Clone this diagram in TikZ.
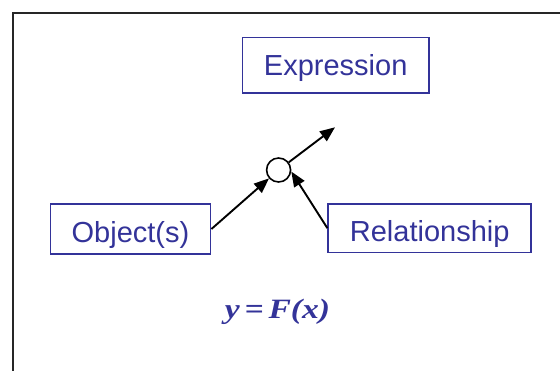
\documentclass[tikz,border=0pt]{standalone}
\usepackage{fontspec}
\setmainfont{Liberation Sans}
\newfontfamily\formulafont{Liberation Serif}
\usepackage{graphicx}
\usetikzlibrary{shapes,arrows.meta,positioning,calc}
\definecolor{boxblue}{RGB}{51,51,153}

\begin{document}
\begin{tikzpicture}[x=1pt, y=-1pt,
    box/.style={draw=boxblue, rectangle, line width=1.6pt, text=boxblue, inner sep=0pt,
                font=\fontsize{29}{29}\selectfont, text height=20.5pt, text depth=0pt},
    link/.style={-{Triangle[length=15pt,width=12pt]}, line width=1.9pt}]
    \useasboundingbox (0,0) rectangle (560,370);
    \draw[line width=2pt, black!85] (575,12.7) -- (13.3,12.7) -- (13.3,385);

    \node[box, minimum width=186.5pt, minimum height=55.3pt] (expr) at (335.7,65.3) {Expression};
    \node[box, minimum width=160.3pt, minimum height=50pt, text height=26.5pt] (obj) at (130.5,229) {Object(s)};
    \node[box, minimum width=203pt, minimum height=48.5pt, text height=26.5pt] (rel) at (429.7,228.2) {Relationship};
    \node[draw, circle, fill=white, line width=1.6pt, minimum size=24pt, inner sep=0pt] (junc) at (278.6,170) {};
    \coordinate (out) at (335,127.3);
    \node[anchor=base, text=boxblue, inner sep=0pt,
          font=\formulafont\bfseries\itshape\fontsize{28}{28}\selectfont] (fx) at (277.5,318.5)
          {\scalebox{1.2}[1]{y\kern4pt=\kern4pt F(x)}};

    \draw[link] (obj.east) -- (junc);
    \draw[link] (rel.west) -- (junc.-7);
    \draw[link] (junc) -- (out);
\end{tikzpicture}
\end{document}
